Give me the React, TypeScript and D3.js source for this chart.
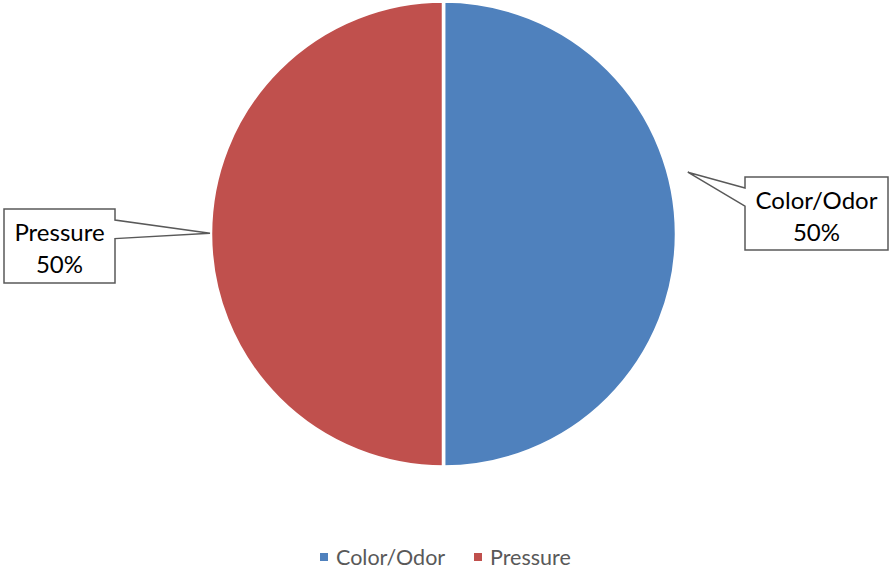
import { useEffect, useRef } from 'react'
import * as d3 from 'd3'

// chart data
const categories = ['Color/Odor', 'Pressure']
const values = [50, 50]
const colors = ['#4F81BD', '#C0504D']

const W = 889
const H = 570

interface Slice {
  name: string
  value: number
  color: string
}

const App = () => {
  const svgRef = useRef<SVGSVGElement | null>(null)

  useEffect(() => {
    if (!svgRef.current) return
    const svg = d3.select(svgRef.current)
    svg.selectAll('*').remove()

    const font = 'Lato, Calibri, Carlito, sans-serif'
    const data: Slice[] = categories.map((c, i) => ({
      name: c,
      value: values[i],
      color: colors[i],
    }))
    const total = d3.sum(values)

    const cx = 443.5
    const cy = 234
    const radius = 233

    const g = svg.append('g').attr('transform', `translate(${cx},${cy})`)

    const pie = d3
      .pie<Slice>()
      .sort(null)
      .value((d) => d.value)
    const arc = d3.arc<d3.PieArcDatum<Slice>>().innerRadius(0).outerRadius(radius)

    const arcs = pie(data)

    // slices
    g.selectAll('path.slice')
      .data(arcs)
      .join('path')
      .attr('class', 'slice')
      .attr('d', arc)
      .attr('fill', (d) => d.data.color)
      .attr('stroke', 'white')
      .attr('stroke-width', 3.5)
      .attr('stroke-linejoin', 'round')

    // callout labels (box placement from the original layout)
    const callouts = [
      { tipAngle: 75.8, tipR: 252, x: 745, y: 177, w: 143, h: 73, side: 'left' },
      { tipAngle: 270.2, tipR: 233.5, x: 4, y: 209, w: 111, h: 74, side: 'right' },
    ]

    arcs.forEach((a, i) => {
      const c = callouts[i]
      const [tx, ty] = d3.pointRadial((c.tipAngle * Math.PI) / 180, c.tipR)
      const tipX = cx + tx
      const tipY = cy + ty
      const { x, y, w, h } = c
      const b1 = y + h * 0.15
      const b2 = y + h * 0.4
      let pts: [number, number][]
      if (c.side === 'left') {
        pts = [
          [x, y],
          [x + w, y],
          [x + w, y + h],
          [x, y + h],
          [x, b2],
          [tipX, tipY],
          [x, b1],
        ]
      } else {
        pts = [
          [x, y],
          [x + w, y],
          [x + w, b1],
          [tipX, tipY],
          [x + w, b2],
          [x + w, y + h],
          [x, y + h],
        ]
      }
      svg
        .append('path')
        .attr('d', d3.line()(pts) + 'Z')
        .attr('fill', 'white')
        .attr('stroke', '#595959')
        .attr('stroke-width', 1.5)

      const pct = d3.format('.0%')(a.data.value / total)
      const t = svg
        .append('text')
        .attr('text-anchor', 'middle')
        .attr('font-family', font)
        .attr('font-size', 24)
        .attr('fill', '#000')
      t.append('tspan').attr('x', x + w / 2).attr('y', y + h / 2 - 5).text(a.data.name)
      t.append('tspan').attr('x', x + w / 2).attr('y', y + h / 2 + 27).text(pct)
    })

    // legend
    const legend = svg.append('g').attr('font-family', font).attr('font-size', 21.5)
    const legendX = [320, 474]
    data.forEach((d, i) => {
      const lg = legend.append('g').attr('transform', `translate(${legendX[i]},553)`)
      lg.append('rect').attr('width', 8).attr('height', 8).attr('fill', d.color)
      lg.append('text').attr('x', 16).attr('y', 12).attr('fill', '#595959').text(d.name)
    })
  }, [])

  return (
    <svg
      ref={svgRef}
      width={W}
      height={H}
      style={{ position: 'absolute', left: 0, top: 0, background: 'white' }}
    ></svg>
  )
}

export default App
